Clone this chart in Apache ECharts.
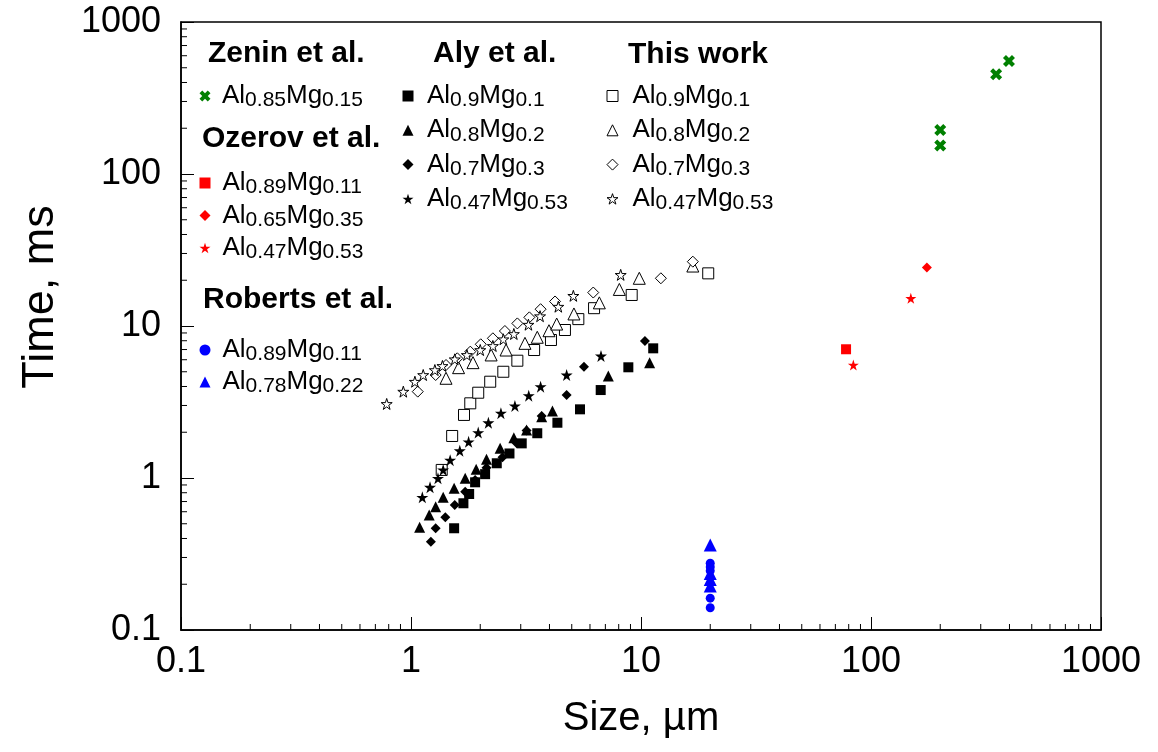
<!DOCTYPE html>
<html>
<head>
<meta charset="utf-8">
<script src="https://cdn.jsdelivr.net/npm/echarts@6/dist/echarts.min.js"></script>
<style>
  html, body { margin: 0; padding: 0; background: #fff; }
  #chart { width: 1158px; height: 752px; }
</style>
</head>
<body>
<div id="chart"></div>
<script>
// Particle size (µm) vs. burn time (ms) for Al–Mg alloy particles.

// This work (open markers)
const twAl90Size = [1.36, 1.51, 1.70, 1.81, 1.96, 2.21, 2.52, 2.90, 3.43, 4.06, 4.67, 5.34, 6.25, 9.11, 19.6];
const twAl90Time = [1.13, 1.89, 2.60, 3.10, 3.64, 4.30, 5.00, 5.91, 6.95, 8.09, 9.41, 11.1, 13.1, 16.0, 22.2];
const twAl80Size = [1.42, 1.61, 1.86, 2.23, 2.59, 3.13, 3.54, 3.98, 4.30, 5.11, 6.59, 8.05, 9.83, 16.8];
const twAl80Time = [4.53, 5.32, 5.74, 6.45, 6.95, 7.69, 8.43, 9.31, 10.3, 12.0, 14.2, 17.4, 20.6, 24.8];
const twAl70Size = [1.07, 1.28, 1.42, 1.59, 1.81, 2.01, 2.27, 2.56, 2.90, 3.27, 3.66, 4.23, 6.20, 12.2, 16.8];
const twAl70Time = [3.70, 4.76, 5.54, 6.13, 6.78, 7.58, 8.30, 9.27, 10.4, 11.4, 12.9, 14.5, 16.6, 20.6, 26.5];
const twAl47Size = [0.784, 0.926, 1.04, 1.13, 1.27, 1.37, 1.55, 1.75, 2.00, 2.27, 2.52, 2.80, 3.24, 3.64, 4.37, 5.08, 8.16];
const twAl47Time = [3.07, 3.70, 4.30, 4.76, 5.13, 5.46, 6.04, 6.45, 6.95, 7.39, 8.18, 8.86, 10.2, 11.6, 13.4, 15.8, 21.7];

// Aly et al. (filled black markers)
const alyAl90Size = [1.54, 1.69, 1.79, 1.90, 2.10, 2.36, 2.68, 3.03, 3.54, 4.33, 5.43, 6.68, 8.81, 11.3];
const alyAl90Time = [0.467, 0.682, 0.785, 0.937, 1.06, 1.25, 1.45, 1.69, 1.97, 2.31, 2.83, 3.79, 5.35, 7.13];
const alyAl80Size = [1.09, 1.20, 1.28, 1.38, 1.54, 1.72, 1.92, 2.13, 2.44, 2.80, 3.18, 3.70, 4.12, 7.21, 10.9];
const alyAl80Time = [0.474, 0.571, 0.647, 0.746, 0.855, 0.995, 1.14, 1.33, 1.57, 1.84, 2.07, 2.53, 2.76, 4.69, 5.74];
const alyAl70Size = [1.22, 1.28, 1.41, 1.55, 1.72, 1.90, 2.13, 2.50, 2.88, 3.18, 3.70, 4.75, 5.65, 10.4];
const alyAl70Time = [0.381, 0.467, 0.551, 0.664, 0.813, 0.970, 1.17, 1.37, 1.69, 2.05, 2.56, 3.52, 5.40, 7.97];
const alyAl47Size = [1.12, 1.21, 1.31, 1.38, 1.48, 1.63, 1.78, 1.96, 2.17, 2.46, 2.83, 3.25, 3.66, 4.75, 6.70];
const alyAl47Time = [0.746, 0.869, 0.995, 1.13, 1.31, 1.51, 1.73, 1.99, 2.31, 2.67, 2.98, 3.48, 3.99, 4.76, 6.35];

// Zenin et al.
const zeninSize = [398, 350, 200, 200];
const zeninTime = [554, 453, 195, 154];

// Ozerov et al.
const ozAl89Size = [77.9];
const ozAl89Time = [7.03];
const ozAl65Size = [175];
const ozAl65Time = [24.3];
const ozAl47Size = [149, 83.8];
const ozAl47Time = [15.2, 5.54];

// Roberts et al.
const robAl89Size = [20, 20, 20, 20, 20];
const robAl89Time = [0.275, 0.26, 0.245, 0.162, 0.14];
const robAl78Size = [20, 20, 20, 20];
const robAl78Time = [0.362, 0.235, 0.215, 0.195];

// Axis ticks
const xTickLabels = ['0.1', '1', '10', '100', '1000'];
const yTickLabels = ['0.1', '1', '10', '100', '1000'];
const xMinorTicks = [0.2, 0.3, 0.4, 0.5, 0.6, 0.7, 0.8, 0.9, 2, 3, 4, 5, 6, 7, 8, 9,
                     20, 30, 40, 50, 60, 70, 80, 90, 200, 300, 400, 500, 600, 700, 800, 900];
const yMinorTicks = xMinorTicks;

const FONT = '"Liberation Sans", Arial, sans-serif';
const STAR = 'path://M5.65,0 L6.92,3.9 L11.02,3.9 L7.7,6.32 L8.97,10.22 L5.65,7.81 L2.33,10.22 L3.6,6.32 L0.28,3.9 L4.38,3.9 Z';
const CROSS = 'path://M0,3 L3,0 L6,3 L9,0 L12,3 L9,6 L12,9 L9,12 L6,9 L3,12 L0,9 L3,6 Z';

const zip = (xs, ys) => xs.map((x, i) => [x, ys[i]]);

// Legend labels with subscripted composition
const labels = {
  'Zenin Al0.85Mg0.15': '{m|Al}{s|0.85}{m|Mg}{s|0.15}',
  'Ozerov Al0.89Mg0.11': '{m|Al}{s|0.89}{m|Mg}{s|0.11}',
  'Ozerov Al0.65Mg0.35': '{m|Al}{s|0.65}{m|Mg}{s|0.35}',
  'Ozerov Al0.47Mg0.53': '{m|Al}{s|0.47}{m|Mg}{s|0.53}',
  'Roberts Al0.89Mg0.11': '{m|Al}{s|0.89}{m|Mg}{s|0.11}',
  'Roberts Al0.78Mg0.22': '{m|Al}{s|0.78}{m|Mg}{s|0.22}',
  'Aly Al0.9Mg0.1': '{m|Al}{s|0.9}{m|Mg}{s|0.1}',
  'Aly Al0.8Mg0.2': '{m|Al}{s|0.8}{m|Mg}{s|0.2}',
  'Aly Al0.7Mg0.3': '{m|Al}{s|0.7}{m|Mg}{s|0.3}',
  'Aly Al0.47Mg0.53': '{m|Al}{s|0.47}{m|Mg}{s|0.53}',
  'This work Al0.9Mg0.1': '{m|Al}{s|0.9}{m|Mg}{s|0.1}',
  'This work Al0.8Mg0.2': '{m|Al}{s|0.8}{m|Mg}{s|0.2}',
  'This work Al0.7Mg0.3': '{m|Al}{s|0.7}{m|Mg}{s|0.3}',
  'This work Al0.47Mg0.53': '{m|Al}{s|0.47}{m|Mg}{s|0.53}'
};

const rich = {
  m: { fontFamily: FONT, fontSize: 26, lineHeight: 30, color: '#000' },
  s: { fontFamily: FONT, fontSize: 21, lineHeight: 15, verticalAlign: 'bottom', color: '#000' }
};

const OPEN_STYLE = { color: '#fff', borderColor: '#000', borderWidth: 1, opacity: 1 };

// icon is a square box; textPad shifts the label right of the icon
function legendBlock(names, iconCenterX, top, gap, textPad, openNames) {
  return {
    data: names.map(n => (openNames && openNames.includes(n)) ? { name: n, itemStyle: OPEN_STYLE } : n),
    orient: 'vertical', left: iconCenterX - 5.5, top: top, itemGap: gap,
    itemWidth: 11, itemHeight: 11, padding: 0, selectedMode: false,
    formatter: n => labels[n],
    textStyle: { fontFamily: FONT, fontSize: 26, color: '#000', rich: rich, padding: [0, 0, 0, textPad] }
  };
}

function scatter(name, xs, ys, symbol, size, color, open) {
  return {
    type: 'scatter', name: name, data: zip(xs, ys), symbol: symbol, symbolSize: size,
    itemStyle: open ? OPEN_STYLE : { color: color, borderWidth: 0, opacity: 1 },
    emphasis: { disabled: true }
  };
}

function header(text, x, y) {
  return {
    type: 'text', x: x, y: y, silent: true,
    style: { text: text, font: 'bold 30px ' + FONT, fill: '#000', verticalAlign: 'middle' }
  };
}

const thisWorkNames = ['This work Al0.9Mg0.1', 'This work Al0.8Mg0.2', 'This work Al0.7Mg0.3', 'This work Al0.47Mg0.53'];

const chart = echarts.init(document.getElementById('chart'));

chart.setOption({
  animation: false,
  backgroundColor: '#fff',
  grid: { left: 181, right: 57, top: 22, bottom: 122, show: true, borderColor: '#000', borderWidth: 1.5 },
  xAxis: {
    type: 'log', logBase: 10, min: 0.1, max: 1000,
    name: 'Size, µm', nameLocation: 'middle', nameGap: 69,
    nameTextStyle: { fontFamily: FONT, fontSize: 40, color: '#000' },
    axisLine: { lineStyle: { color: '#000', width: 1.5 } },
    axisTick: { inside: true, length: 13, lineStyle: { color: '#000', width: 1 } },
    axisLabel: {
      fontFamily: FONT, fontSize: 36, color: '#000', margin: 14,
      formatter: v => xTickLabels[Math.round(Math.log10(v)) + 1]
    },
    splitLine: { show: false }
  },
  yAxis: {
    type: 'log', logBase: 10, min: 0.1, max: 1000,
    name: 'Time, ms', nameLocation: 'middle', nameGap: 118,
    nameTextStyle: { fontFamily: FONT, fontSize: 45, color: '#000', padding: [0, 0, 0, 58] },
    axisLine: { lineStyle: { color: '#000', width: 1.5 } },
    axisTick: { inside: true, length: 13, lineStyle: { color: '#000', width: 1 } },
    axisLabel: {
      fontFamily: FONT, fontSize: 36, color: '#000', margin: 20,
      formatter: v => yTickLabels[Math.round(Math.log10(v)) + 1]
    },
    splitLine: { show: false }
  },
  legend: [
    legendBlock(['Zenin Al0.85Mg0.15'], 205, 83, 4, 6.5),
    legendBlock(['Ozerov Al0.89Mg0.11', 'Ozerov Al0.65Mg0.35', 'Ozerov Al0.47Mg0.53'], 205, 170, 4.5, 7),
    legendBlock(['Roberts Al0.89Mg0.11', 'Roberts Al0.78Mg0.22'], 205, 337, 4, 7),
    legendBlock(['Aly Al0.9Mg0.1', 'Aly Al0.8Mg0.2', 'Aly Al0.7Mg0.3', 'Aly Al0.47Mg0.53'], 408, 83, 6.3, 8.5),
    legendBlock(thisWorkNames, 612, 83, 6.3, 9.5, thisWorkNames)
  ],
  graphic: [
    header('Zenin et al.', 208, 54),
    header('Ozerov et al.', 202, 139),
    header('Roberts et al.', 203, 300),
    header('Aly et al.', 433, 54),
    header('This work', 628, 55)
  ],
  series: [
    // minor ticks along the bottom axis
    {
      type: 'custom', silent: true, clip: false, data: xMinorTicks.map(v => [v, 0.1]),
      renderItem: (p, api) => {
        const c = api.coord([api.value(0), api.value(1)]);
        return { type: 'line', shape: { x1: c[0], y1: c[1], x2: c[0], y2: c[1] - 6 }, style: { stroke: '#000', lineWidth: 1 } };
      }
    },
    // minor ticks along the left axis
    {
      type: 'custom', silent: true, clip: false, data: yMinorTicks.map(v => [0.1, v]),
      renderItem: (p, api) => {
        const c = api.coord([api.value(0), api.value(1)]);
        return { type: 'line', shape: { x1: c[0], y1: c[1], x2: c[0] + 6, y2: c[1] }, style: { stroke: '#000', lineWidth: 1 } };
      }
    },
    scatter('This work Al0.9Mg0.1', twAl90Size, twAl90Time, 'rect', 11, '#000', true),
    scatter('This work Al0.8Mg0.2', twAl80Size, twAl80Time, 'triangle', 12, '#000', true),
    scatter('This work Al0.7Mg0.3', twAl70Size, twAl70Time, 'diamond', 11, '#000', true),
    scatter('This work Al0.47Mg0.53', twAl47Size, twAl47Time, STAR, 11, '#000', true),
    scatter('Aly Al0.9Mg0.1', alyAl90Size, alyAl90Time, 'rect', 10, '#000', false),
    scatter('Aly Al0.8Mg0.2', alyAl80Size, alyAl80Time, 'triangle', 11, '#000', false),
    scatter('Aly Al0.7Mg0.3', alyAl70Size, alyAl70Time, 'diamond', 10, '#000', false),
    scatter('Aly Al0.47Mg0.53', alyAl47Size, alyAl47Time, STAR, 12, '#000', false),
    scatter('Zenin Al0.85Mg0.15', zeninSize, zeninTime, CROSS, 12, '#008000', false),
    scatter('Ozerov Al0.89Mg0.11', ozAl89Size, ozAl89Time, 'rect', 10, '#ff0000', false),
    scatter('Ozerov Al0.65Mg0.35', ozAl65Size, ozAl65Time, 'diamond', 10, '#ff0000', false),
    scatter('Ozerov Al0.47Mg0.53', ozAl47Size, ozAl47Time, STAR, 11, '#ff0000', false),
    scatter('Roberts Al0.89Mg0.11', robAl89Size, robAl89Time, 'circle', 9, '#0000ff', false),
    scatter('Roberts Al0.78Mg0.22', robAl78Size, robAl78Time, 'triangle', 13, '#0000ff', false)
  ]
});
</script>
</body>
</html>
